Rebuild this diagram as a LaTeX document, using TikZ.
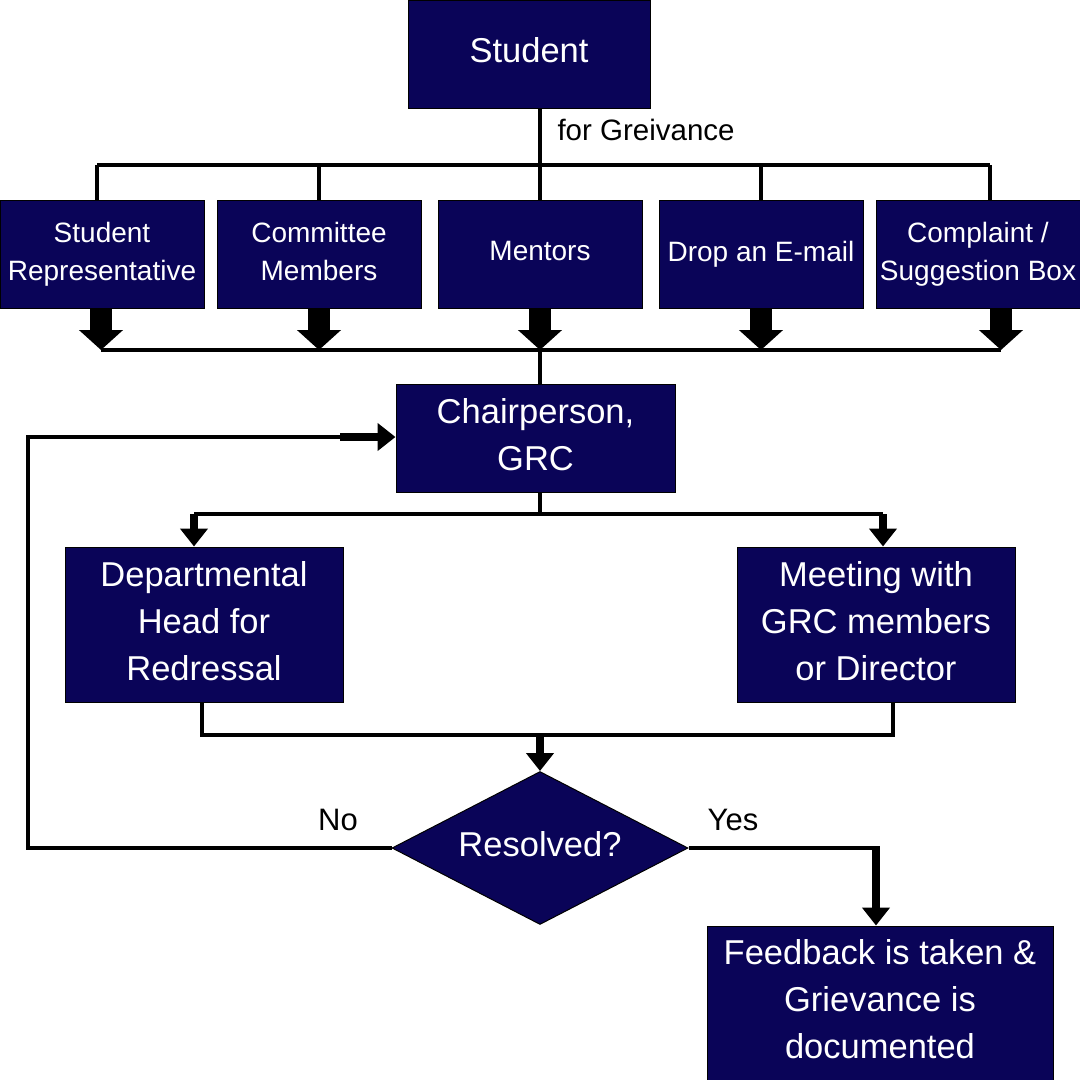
\documentclass[tikz,border=0pt]{standalone}
\usepackage{fontspec}
\setmainfont{Liberation Sans}
\usetikzlibrary{shapes.geometric,arrows.meta}
\definecolor{navy}{RGB}{10,4,88}

\begin{document}
\begin{tikzpicture}[x=1pt,y=1pt,
  every node/.style={font=\fontsize{28}{38}\selectfont},
  box/.style={rectangle,draw=black,line width=1pt,fill=navy,text=white,align=center,inner sep=0pt,text depth=6pt},
  big/.style={font=\fontsize{34.5}{47}\selectfont,text depth=7.5pt},
  link/.style={line width=4pt},
  blockarrow/.style={line width=22pt,-{Triangle[width=43pt,length=20pt]}},
  midarrow/.style={line width=8pt,-{Triangle[width=27pt,length=18pt]}}]
  \useasboundingbox (0,0) rectangle (1080,-1080);

  % Boxes
  \node[box,big,minimum width=242,minimum height=108] (st) at (529,-54) {Student};
  \node[box,minimum width=204,minimum height=108] (sr) at (102,-254) {Student\\Representative};
  \node[box,minimum width=204,minimum height=108] (cm) at (319,-254) {Committee\\Members};
  \node[box,minimum width=204,minimum height=108] (mt) at (540,-254) {Mentors};
  \node[box,minimum width=204,minimum height=108] (em) at (761,-254) {Drop an E-mail};
  \node[box,minimum width=204,minimum height=108] (cs) at (978,-254) {Complaint /\\Suggestion Box};
  \node[box,big,minimum width=279,minimum height=108] (ch) at (535.5,-438) {Chairperson,\\GRC};
  \node[box,big,minimum width=278,minimum height=155] (dh) at (204,-624.5) {Departmental\\Head for\\Redressal};
  \node[box,big,minimum width=278,minimum height=155] (mg) at (876,-624.5) {Meeting with\\GRC members\\or Director};
  \node[box,big,shape=diamond,aspect=1.93,minimum width=296,minimum height=153] (rs) at (540,-848) {Resolved?};
  \node[box,big,minimum width=346,minimum height=154] (fd) at (880,-1003) {Feedback is taken \&\\Grievance is\\documented};

  % Labels
  \node[anchor=base west,font=\fontsize{29.5}{36}\selectfont] (fg) at (554,-140) {for Greivance};
  \node[font=\fontsize{31}{36}\selectfont] (no) at (338,-820) {No};
  \node[font=\fontsize{31}{36}\selectfont] (yes) at (733,-820) {Yes};

  % Bus points
  \coordinate (topL) at (97,-165);
  \coordinate (topR) at (990,-165);
  \coordinate (botL) at (101,-350);
  \coordinate (botR) at (1001,-350);
  \coordinate (a1) at (194,-514);
  \coordinate (a2) at (883,-514);
  \coordinate (b1) at (202,-735);
  \coordinate (b2) at (893,-735);
  \coordinate (lp) at (28,-848);
  \coordinate (fb) at (340,-437);
  \coordinate (rp) at (876,-848);

  % Student to the five ways
  \draw[link] (st.south -| mt.north) -- (mt.north);
  \draw[link] (topL) -- (topR);
  \draw[link] (topL) -- (topL |- sr.north);
  \draw[link] (cm.north |- topL) -- (cm.north);
  \draw[link] (em.north |- topL) -- (em.north);
  \draw[link] (topR) -- (topR |- cs.north);

  % Five ways to chairperson
  \draw[link] (botL) -- (botR);
  \draw[blockarrow] (botL |- sr.south) -- (botL);
  \foreach \n in {cm,mt,em}
    \draw[blockarrow] (\n.south) -- (\n.south |- botL);
  \draw[blockarrow] (botR |- cs.south) -- (botR);
  \draw[link] (mt.south |- botL) -- (mt.south |- ch.north);

  % Chairperson to redressal
  \draw[link] (mt.south |- ch.south) -- (mt.south |- a1);
  \draw[link] (a1) -- (a2);
  \draw[midarrow] (a1) -- (a1 |- dh.north);
  \draw[midarrow] (a2) -- (a2 |- mg.north);

  % Redressal to decision
  \draw[link] (b1 |- dh.south) -- (b1) -- (b2) -- (b2 |- mg.south);
  \draw[midarrow] (rs.north |- b1) -- (rs.north);

  % No: back to chairperson
  \draw[link] (rs.west) -- (lp) |- (fb);
  \draw[midarrow] (fb) -- (fb -| ch.west);

  % Yes: feedback
  \draw[link] (rs.east) -- (rp);
  \draw[midarrow] ([yshift=2pt]rp) -- (rp |- fd.north);
\end{tikzpicture}
\end{document}
